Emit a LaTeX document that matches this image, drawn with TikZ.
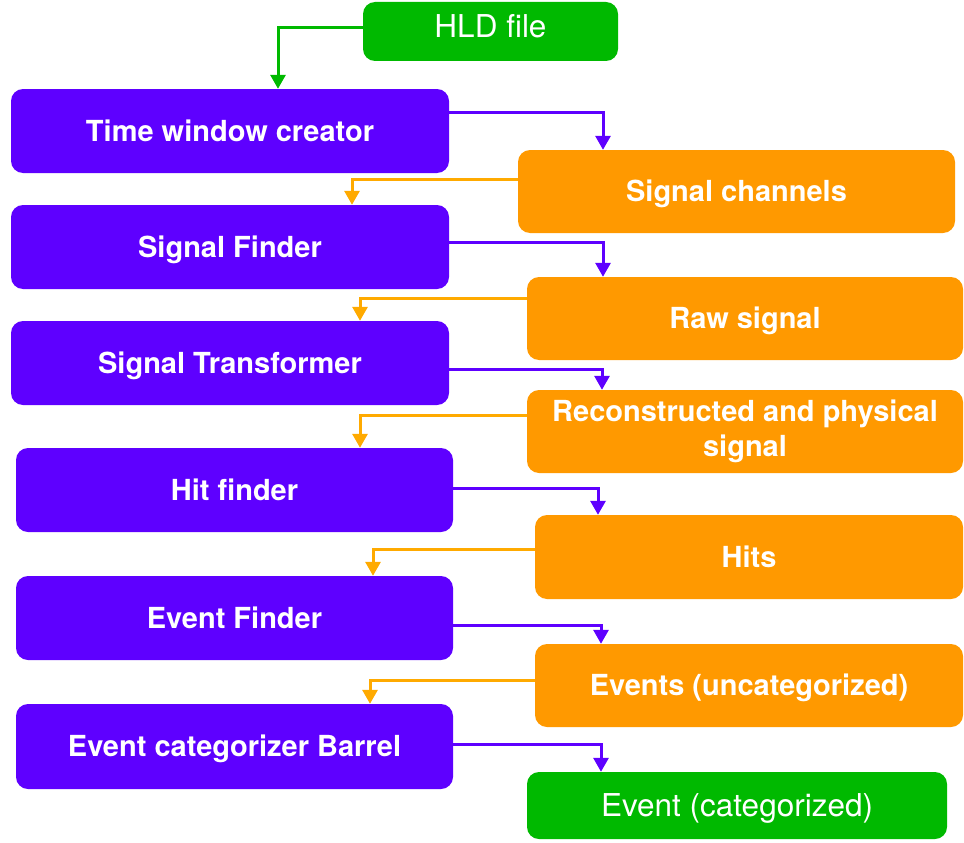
\documentclass[tikz,border=0pt]{standalone}
\usepackage{fontspec}
\setmainfont{TeX Gyre Heros}
\usetikzlibrary{arrows.meta}
\definecolor{vio}{HTML}{5E00FF}
\definecolor{ora}{HTML}{FF9900}
\definecolor{oraline}{HTML}{FFAA00}
\definecolor{grn}{HTML}{00B900}
\tikzset{
  box/.style={rounded corners=12pt, inner sep=0pt, text=white, align=center,
    font=\fontsize{29}{35}\selectfont\bfseries},
  capc/.style={text height=20.9pt, text depth=0pt},
  procbox/.style={box, capc, fill=vio},
  databox/.style={box, fill=ora},
  endbox/.style={box, fill=grn, text height=22.7pt, text depth=0pt, font=\fontsize{31.5}{36}\selectfont},
  conn/.style={line width=3pt, -{Triangle[width=15pt,length=14pt]}},
}
\begin{document}
\begin{tikzpicture}[x=1pt,y=-1pt]
\useasboundingbox (0,0) rectangle (964,843);
% start
\node[endbox, text depth=11pt, minimum width=255pt, minimum height=59pt] (hld) at (490.5,31.5) {HLD file};
% left process boxes
\node[procbox, minimum width=438pt, minimum height=84pt] (twc) at (230,131) {Time window creator};
\node[procbox, minimum width=438pt, minimum height=84pt] (sf) at (230,247) {Signal Finder};
\node[procbox, minimum width=438pt, minimum height=84pt] (st) at (230,363) {Signal Transformer};
\node[procbox, minimum width=437pt, minimum height=84pt] (hf) at (234.5,490) {Hit finder};
\node[procbox, minimum width=437pt, minimum height=84pt] (ef) at (234.5,618) {Event Finder};
\node[procbox, minimum width=437pt, minimum height=85pt] (ecb) at (234.5,746.5) {Event categorizer Barrel};
% right data boxes
\node[databox, capc, minimum width=437pt, minimum height=83pt] (sc) at (736.5,191.5) {Signal channels};
\node[databox, capc, minimum width=436pt, minimum height=83pt] (rs) at (745,318.5) {Raw signal};
\node[databox, minimum width=436pt, minimum height=83pt] (rp) at (745,431.5) {Reconstructed and physical\\signal};
\node[databox, capc, minimum width=428pt, minimum height=84pt] (hits) at (749,557) {Hits};
\node[databox, capc, minimum width=428pt, minimum height=83pt] (evu) at (749,685.5) {Events (uncategorized)};
\node[endbox, minimum width=420pt, minimum height=67pt] (evc) at (737,805.5) {Event (categorized)};
% connectors
\draw[conn, grn] (hld.west |- 0,28) -| (278,0 |- twc.north);
\draw[conn, vio] (twc.east |- 0,112) -| (603,0 |- sc.north);
\draw[conn, oraline] (sc.west |- 0,179) -| (352,0 |- sf.north);
\draw[conn, vio] (sf.east |- 0,242) -| (603,0 |- rs.north);
\draw[conn, oraline] (rs.west |- 0,298) -| (360,0 |- st.north);
\draw[conn, vio] (st.east |- 0,369) -| (602,0 |- rp.north);
\draw[conn, oraline] (rp.west |- 0,415) -| (360,0 |- hf.north);
\draw[conn, vio] (hf.east |- 0,488) -| (598,0 |- hits.north);
\draw[conn, oraline] (hits.west |- 0,549) -| (373,0 |- ef.north);
\draw[conn, vio] (ef.east |- 0,625) -| (601,0 |- evu.north);
\draw[conn, oraline] (evu.west |- 0,680) -| (370,0 |- ecb.north);
\draw[conn, vio] (ecb.east |- 0,744) -| (601,0 |- evc.north);
\end{tikzpicture}
\end{document}
